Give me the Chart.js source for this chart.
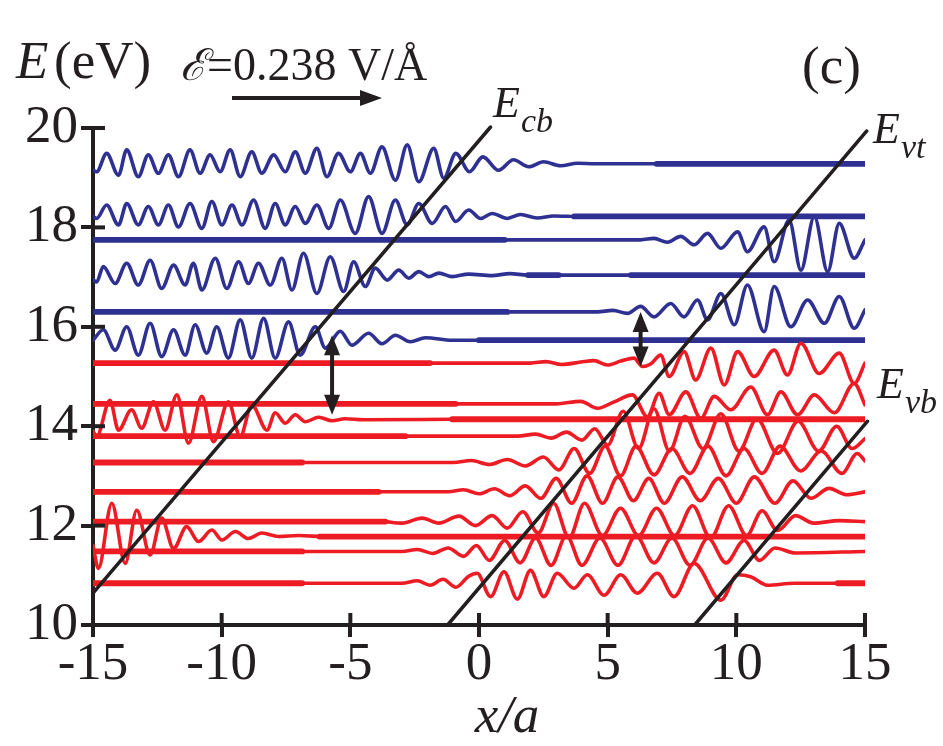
<!DOCTYPE html>
<html>
<head>
<meta charset="utf-8">
<script src="https://cdn.jsdelivr.net/npm/chart.js@4.4.1/dist/chart.umd.min.js"></script>
<style>
  html, body { margin: 0; padding: 0; background: #fff; }
  #wrap { width: 943px; height: 746px; }
</style>
</head>
<body>
<div id="wrap"><canvas id="myChart" width="943" height="746"></canvas></div>
<script>
// axes
const xRange = [-15, 15];
const yRange = [10, 20];

// band edges (x/a, eV)
const eCb = [[-15, 10.64], [0.45, 20.02]];
const eVt = [[-1.22, 10], [15.07, 19.94]];
const eVb = [[8.38, 10], [15.1, 14.1]];

// blue states
const b1Wave = [[-15,19.15],[-14.86,19.12],[-14.47,19.49],[-14.01,19.05],[-13.69,19.56],[-13.24,19.02],[-12.85,19.46],[-12.46,19.09],[-12.07,19.46],[-11.68,19.02],[-11.23,19.56],[-10.84,19.09],[-10.45,19.46],[-10.06,19.12],[-9.67,19.56],[-9.28,19.02],[-8.83,19.52],[-8.44,19.09],[-7.98,19.46],[-7.53,19.12],[-7.14,19.52],[-6.75,19.09],[-6.30,19.59],[-5.91,19.02],[-5.46,19.49],[-5.00,19.12],[-4.61,19.49],[-4.22,19.09],[-3.77,19.62],[-3.25,18.95],[-2.79,19.66],[-2.34,18.92],[-1.76,19.59],[-1.37,18.99],[-0.90,19.49],[-0.37,19.12],[0.15,19.42],[0.76,19.15],[1.34,19.36],[1.93,19.22],[2.51,19.32],[3.17,19.24],[3.83,19.29],[4.5,19.28],[6.9,19.28]];
const b1Level = [[6.9,19.28],[15,19.28]];

const b2Wave = [[-15,18.22],[-14.86,18.18],[-14.47,18.45],[-14.01,18.05],[-13.69,18.48],[-13.24,18.05],[-12.85,18.42],[-12.46,18.05],[-12.07,18.45],[-11.68,18.01],[-11.23,18.48],[-10.77,17.98],[-10.38,18.52],[-9.99,18.05],[-9.60,18.45],[-9.21,18.05],[-8.76,18.55],[-8.31,17.98],[-7.92,18.48],[-7.53,18.05],[-7.14,18.42],[-6.75,18.08],[-6.30,18.45],[-5.84,17.98],[-5.39,18.55],[-4.81,17.88],[-4.29,18.62],[-3.77,17.88],[-3.25,18.55],[-2.79,18.05],[-2.34,18.48],[-1.82,18.08],[-1.30,18.42],[-0.91,18.12],[-0.40,18.35],[0.06,18.18],[0.51,18.28],[1.10,18.18],[1.61,18.26],[2.26,18.19],[2.91,18.23],[3.7,18.22]];
const b2Level = [[3.7,18.22],[15,18.22]];

const b3Level = [[-15,17.75],[1.0,17.75]];
const b3Wave = [[1.0,17.75],[6.28,17.75],[6.80,17.78],[7.32,17.70],[7.84,17.82],[8.36,17.65],[8.88,17.88],[9.40,17.58],[10.05,17.91],[10.43,17.51],[11.08,18.01],[11.47,17.31],[12.05,18.15],[12.51,17.14],[13.03,18.22],[13.55,17.11],[14.0,18.08],[14.58,17.38],[15,17.75]];

const b4Wave = [[-15,16.95],[-14.86,16.9],[-14.60,17.21],[-14.14,16.87],[-13.69,17.28],[-13.24,16.84],[-12.78,17.34],[-12.33,16.77],[-11.87,17.24],[-11.42,16.84],[-11.10,17.28],[-10.77,16.74],[-10.25,17.38],[-9.80,16.77],[-9.34,17.31],[-8.96,16.87],[-8.57,17.28],[-8.11,16.84],[-7.66,17.38],[-7.27,16.74],[-6.82,17.48],[-6.30,16.67],[-5.78,17.41],[-5.26,16.71],[-4.87,17.31],[-4.42,16.81],[-4.03,17.18],[-3.57,16.94],[-3.12,17.14],[-2.73,16.98],[-2.34,17.11],[-1.95,17.01],[-1.56,17.08],[-1.04,17.01],[-0.40,17.06],[0.5,17.03],[1.2,17.07],[1.9,17.04],[5.9,17.04]];
const b4Level = [[5.9,17.04],[15,17.04]];
const b4Piece = [[1.9,17.04],[3.1,17.04]];

const b5Level = [[-15,16.3],[1.1,16.3]];
const b5Wave = [[1.1,16.3],[4.6,16.3],[5.2,16.33],[5.77,16.27],[6.28,16.41],[6.80,16.20],[7.45,16.47],[7.97,16.20],[8.49,16.54],[8.88,16.14],[9.40,16.67],[9.92,16.04],[10.43,16.84],[11.08,15.90],[11.47,16.81],[12.12,16.00],[12.77,16.54],[13.42,16.07],[14.0,16.61],[14.58,15.97],[15,16.34]];

const b6Wave = [[-15,15.73],[-14.60,15.94],[-14.14,15.53],[-13.69,16.00],[-13.24,15.43],[-12.78,16.07],[-12.33,15.40],[-11.87,15.94],[-11.42,15.43],[-11.03,16.04],[-10.58,15.47],[-10.19,16.00],[-9.74,15.37],[-9.28,16.14],[-8.83,15.37],[-8.37,16.17],[-7.92,15.37],[-7.40,16.10],[-6.95,15.43],[-6.36,16.00],[-5.97,15.57],[-5.39,15.91],[-4.94,15.63],[-4.29,15.87],[-3.77,15.66],[-3.25,15.83],[-2.67,15.70],[-2.08,15.78],[-1.04,15.73],[0,15.73]];
const b6Level = [[0,15.73],[15,15.73]];

// red states
const r1Level = [[-15,15.27],[-1.9,15.27]];
const r1Wave = [[-1.9,15.27],[2.0,15.27],[2.6,15.30],[3.2,15.24],[3.95,15.29],[4.47,15.32],[4.99,15.23],[5.51,15.31],[6.02,15.37],[6.35,15.20],[6.67,15.25],[7.06,15.43],[7.39,15.00],[7.97,15.50],[8.42,14.93],[9.01,15.57],[9.53,14.83],[10.05,15.50],[10.69,15.00],[11.47,15.53],[11.99,15.03],[12.51,15.67],[13.22,15.06],[14.0,15.47],[14.58,14.86],[15,15.27]];

const r2Level = [[-15,14.45],[-0.91,14.45]];
const r2Wave = [[-0.91,14.45],[3.0,14.45],[3.95,14.50],[4.60,14.36],[5.25,14.49],[5.96,14.63],[6.54,14.19],[7.0,14.66],[7.39,14.23],[8.04,14.69],[8.62,14.16],[9.14,14.60],[9.79,14.33],[10.56,14.79],[11.21,14.23],[11.73,14.69],[12.38,14.23],[13.03,14.63],[13.81,14.27],[14.58,14.86],[15,14.43]];

const r3Wave = [[-15,13.9],[-14.86,13.79],[-14.34,14.52],[-14.01,13.92],[-13.50,14.33],[-13.11,13.96],[-12.65,14.49],[-12.20,13.92],[-11.74,14.63],[-11.29,13.66],[-10.77,14.60],[-10.32,13.69],[-9.74,14.49],[-9.28,13.79],[-8.83,14.43],[-8.24,13.92],[-7.92,14.27],[-7.53,14.06],[-7.14,14.23],[-6.75,14.09],[-6.23,14.18],[-5.71,14.11],[-5.2,14.15],[-4.5,14.13],[-1.04,14.14]];
const r3Level = [[-1.04,14.14],[15,14.14]];

const r4Level = [[-15,13.8],[-2.86,13.8]];
const r4Wave = [[-2.86,13.8],[1.5,13.8],[2.2,13.84],[2.8,13.76],[3.4,13.88],[4.0,13.72],[4.5,13.95],[5.0,13.62],[5.6,14.3],[6.2,13.55],[6.8,14.35],[7.4,13.5],[8.0,14.2],[8.7,13.55],[9.4,14.25],[10.1,13.5],[10.8,14.15],[11.6,13.45],[12.4,14.1],[13.2,13.5],[13.9,14.0],[14.5,13.55],[15,13.75]];

const r5Level = [[-15,13.27],[-6.87,13.27]];
const r5Wave = [[-6.87,13.27],[-1.0,13.27],[-0.3,13.31],[0.4,13.23],[1.1,13.33],[1.8,13.2],[2.5,13.38],[3.1,13.12],[3.7,13.55],[4.3,13.05],[4.9,13.6],[5.5,13.0],[6.1,13.6],[6.8,13.02],[7.5,13.55],[8.2,13.05],[8.9,13.6],[9.6,13.0],[10.3,13.55],[11.0,13.05],[11.7,13.6],[12.5,13.1],[13.3,13.5],[14.1,13.05],[14.7,13.45],[15,13.3]];

const r6Level = [[-15,12.68],[-3.9,12.68]];
const r6Wave = [[-3.9,12.68],[-1.2,12.68],[-0.6,12.72],[0,12.64],[0.6,12.74],[1.2,12.6],[1.8,12.8],[2.4,12.55],[3.0,12.95],[3.6,12.45],[4.2,13.0],[4.8,12.45],[5.4,12.98],[6.0,12.5],[6.6,12.95],[7.2,12.45],[7.9,12.98],[8.6,12.5],[9.3,12.95],[10.0,12.45],[10.7,12.98],[11.5,12.45],[12.2,12.9],[12.9,12.55],[13.6,12.75],[14.3,12.62],[15,12.68]];

const r7Level = [[-15,12.08],[-3.64,12.08]];
const r7Wave = [[-3.64,12.08],[-2.99,12.05],[-2.21,12.15],[-1.56,12.05],[-0.78,12.19],[-0.14,12.0],[0.51,12.2],[1.1,11.95],[1.7,12.28],[2.3,11.85],[2.9,12.45],[3.5,11.75],[4.1,12.45],[4.8,11.8],[5.5,12.35],[6.2,11.8],[6.9,12.35],[7.6,11.8],[8.3,12.4],[9.0,11.75],[9.7,12.4],[10.4,11.8],[11.0,12.3],[11.6,11.9],[12.3,12.2],[13.0,12.05],[14.0,12.1],[15,12.08]];

const r8Wave = [[-15,11.6],[-14.79,11.14],[-14.27,12.45],[-13.75,11.24],[-13.30,12.31],[-12.78,11.41],[-12.33,12.15],[-11.87,11.54],[-11.36,11.98],[-10.90,11.68],[-10.38,11.91],[-9.99,11.71],[-9.47,11.88],[-8.96,11.74],[-8.44,11.85],[-7.79,11.78],[-7.01,11.8],[-6.2,11.78]];
const r8Level = [[-6.2,11.78],[15,11.78]];

const r9Level = [[-15,11.48],[-6.87,11.48]];
const r9Wave = [[-6.87,11.48],[-3.0,11.48],[-2.4,11.52],[-1.8,11.44],[-1.2,11.55],[-0.6,11.38],[-0.1,11.6],[0.4,11.3],[1.0,11.7],[1.6,11.25],[2.2,11.75],[2.8,11.2],[3.4,11.8],[4.0,11.2],[4.7,11.75],[5.4,11.2],[6.1,11.8],[6.8,11.25],[7.5,11.75],[8.2,11.2],[8.9,11.75],[9.6,11.25],[10.3,11.7],[10.9,11.3],[11.5,11.55],[12.3,11.45],[15,11.48]];

const r10Level = [[-15,10.84],[-6.87,10.84]];
const r10Wave = [[-6.87,10.84],[-3.0,10.84],[-2.4,10.89],[-1.9,10.80],[-1.4,10.92],[-0.9,10.76],[-0.4,10.98],[-0.07,11.04],[0.45,10.57],[0.97,11.07],[1.49,10.52],[2.0,11.1],[2.52,10.57],[3.04,11.04],[3.69,10.74],[4.21,11.01],[4.86,10.60],[5.51,11.01],[6.15,10.64],[6.93,11.04],[7.58,10.57],[8.36,11.24],[9.40,10.50],[10.05,11.01],[10.56,10.97],[11.21,10.80],[12.25,10.84],[13.94,10.84]];
const r10Tail = [[13.94,10.84],[15,10.84]];

// double arrows: [x, Etop, Ebottom]
const transitions = [[-5.71, 15.83, 14.23], [6.28, 16.30, 15.20]];

const BLUE = '#2e3192';
const RED = '#ed1c24';
const INK = '#231f20';
const SERIF = '"Liberation Serif", "Times New Roman", serif';

const pts = arr => arr.map(p => ({x: p[0], y: p[1]}));
const wave = (arr, color) => ({data: pts(arr), borderColor: color, borderWidth: 3.6, cubicInterpolationMode: 'monotone', order: 2});
const level = (arr, color) => ({data: pts(arr), borderColor: color, borderWidth: 5.8, order: 3});
const edge = arr => ({data: pts(arr), borderColor: INK, borderWidth: 3.5, order: -1, clip: false});

const datasets = [
  edge(eCb), edge(eVt), edge(eVb),
  wave(b1Wave, BLUE), level(b1Level, BLUE),
  wave(b2Wave, BLUE), level(b2Level, BLUE),
  level(b3Level, BLUE), wave(b3Wave, BLUE),
  wave(b4Wave, BLUE), level(b4Level, BLUE), level(b4Piece, BLUE),
  level(b5Level, BLUE), wave(b5Wave, BLUE),
  wave(b6Wave, BLUE), level(b6Level, BLUE),
  level(r1Level, RED), wave(r1Wave, RED),
  level(r2Level, RED), wave(r2Wave, RED),
  wave(r3Wave, RED), level(r3Level, RED),
  level(r4Level, RED), wave(r4Wave, RED),
  level(r5Level, RED), wave(r5Wave, RED),
  level(r6Level, RED), wave(r6Wave, RED),
  level(r7Level, RED), wave(r7Wave, RED),
  wave(r8Wave, RED), level(r8Level, RED),
  level(r9Level, RED), wave(r9Wave, RED),
  level(r10Level, RED), wave(r10Wave, RED), level(r10Tail, RED)
];

function arrowHead(ctx, x, y, dir) {
  // dir: -1 up, 1 down
  ctx.beginPath();
  ctx.moveTo(x, y);
  ctx.lineTo(x - 8, y - dir * 20);
  ctx.lineTo(x + 8, y - dir * 20);
  ctx.closePath();
  ctx.fill();
}

const decor = {
  id: 'decor',
  afterDraw(chart) {
    const ctx = chart.ctx;
    const xs = chart.scales.x, ys = chart.scales.y;
    ctx.save();
    ctx.strokeStyle = INK;
    ctx.fillStyle = INK;
    // inward half of the tick marks
    ctx.lineWidth = 4;
    xs.ticks.forEach(t => {
      const px = xs.getPixelForValue(t.value);
      ctx.beginPath(); ctx.moveTo(px, ys.bottom); ctx.lineTo(px, ys.bottom - 12); ctx.stroke();
    });
    ys.ticks.forEach(t => {
      const py = ys.getPixelForValue(t.value);
      ctx.beginPath(); ctx.moveTo(xs.left, py); ctx.lineTo(xs.left + 12, py); ctx.stroke();
    });
    // transition arrows
    transitions.forEach(a => {
      const px = xs.getPixelForValue(a[0]);
      const top = ys.getPixelForValue(a[1]);
      const bot = ys.getPixelForValue(a[2]);
      ctx.lineWidth = 4;
      ctx.beginPath(); ctx.moveTo(px, top + 15); ctx.lineTo(px, bot - 15); ctx.stroke();
      arrowHead(ctx, px, top, -1);
      arrowHead(ctx, px, bot, 1);
    });
    // texts
    ctx.textBaseline = 'alphabetic';
    ctx.textAlign = 'left';
    ctx.font = 'italic 53px ' + SERIF;
    ctx.fillText('E', 16, 78);
    ctx.font = '53px ' + SERIF;
    ctx.fillText('(eV)', 54, 78);
    ctx.font = 'italic 44px ' + SERIF;
    ctx.fillText('\u2130', 180, 80);
    ctx.font = '46px ' + SERIF;
    ctx.fillText('=0.238 V/\u00C5', 207, 80);
    ctx.lineWidth = 4;
    ctx.beginPath(); ctx.moveTo(232, 98); ctx.lineTo(365, 98); ctx.stroke();
    ctx.beginPath(); ctx.moveTo(382, 98); ctx.lineTo(360, 90); ctx.lineTo(360, 106); ctx.closePath(); ctx.fill();
    ctx.font = '53px ' + SERIF;
    ctx.fillText('(c)', 802, 83);
    // band labels
    const sub = (main, s, x, y) => {
      ctx.font = 'italic 44px ' + SERIF;
      ctx.fillText(main, x, y);
      const w = ctx.measureText(main).width;
      ctx.font = 'italic 34px ' + SERIF;
      ctx.fillText(s, x + w + 1, y + 15);
    };
    sub('E', 'cb', 493, 117);
    sub('E', 'vt', 873, 143);
    sub('E', 'vb', 877, 398);
    // axis title
    ctx.textAlign = 'center';
    ctx.font = 'italic 53px ' + SERIF;
    ctx.fillText('x/a', 507, 732);
    ctx.restore();
  }
};

Chart.register(decor);
const ctx = document.getElementById('myChart');

new Chart(ctx, {
  type: 'line',
  data: { datasets: datasets },
  options: {
    responsive: false,
    animation: false,
    events: [],
    layout: { padding: { left: 0, right: 78, top: 128, bottom: 0 } },
    elements: {
      point: { radius: 0 },
      line: { borderCapStyle: 'round', borderJoinStyle: 'round', fill: false, tension: 0 }
    },
    scales: {
      x: {
        type: 'linear', min: xRange[0], max: xRange[1],
        afterFit: s => { s.height = 121; },
        ticks: { stepSize: 5, color: INK, padding: -4, font: { family: SERIF, size: 53 } },
        grid: { drawOnChartArea: false, drawTicks: true, tickLength: 12, lineWidth: 4, color: INK },
        border: { display: true, width: 4, color: INK }
      },
      y: {
        type: 'linear', min: yRange[0], max: yRange[1],
        afterFit: s => { s.width = 93; },
        ticks: { stepSize: 2, color: INK, padding: 3, font: { family: SERIF, size: 53 } },
        grid: { drawOnChartArea: false, drawTicks: true, tickLength: 12, lineWidth: 4, color: INK },
        border: { display: true, width: 4, color: INK }
      }
    },
    plugins: { legend: { display: false }, tooltip: { enabled: false } }
  }
});
</script>
</body>
</html>
